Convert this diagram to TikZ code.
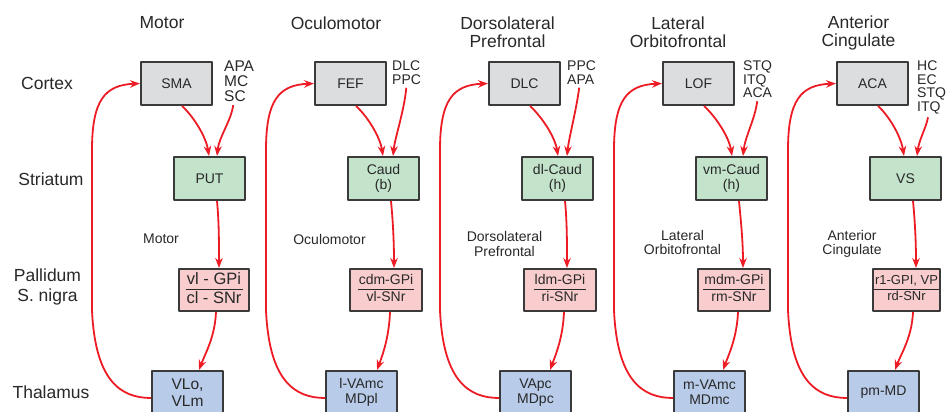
\documentclass[tikz,border=0pt]{standalone}
\usepackage{fontspec}
\setmainfont{Liberation Sans}
\usetikzlibrary{arrows.meta}
\definecolor{fiberred}{RGB}{237,28,36}
\definecolor{boxline}{RGB}{58,58,58}
\definecolor{txt}{RGB}{40,40,40}
\definecolor{cortexfill}{RGB}{220,221,223}
\definecolor{striatumfill}{RGB}{195,227,203}
\definecolor{pallidumfill}{RGB}{249,205,205}
\definecolor{thalamusfill}{RGB}{184,204,234}
\setlength{\arrayrulewidth}{1bp}
\newcommand{\gpsplit}[2]{\begin{tabular}{@{\hspace{1bp}}c@{\hspace{1bp}}}#1\\\hline #2\end{tabular}}
\begin{document}
\begin{tikzpicture}[>={Stealth[length=10bp,width=7.5bp]},line join=bevel,
  every node/.style={text=txt},
  titletext/.style={align=center,inner sep=0pt,font=\fontsize{17.5bp}{18bp}\selectfont},
  midtext/.style={align=center,inner sep=0pt,font=\fontsize{14bp}{14.5bp}\selectfont},
  inlabel/.style={align=left,inner sep=0pt,anchor=north west,font=\fontsize{14bp}{13.5bp}\selectfont},
  areabox/.style={draw=boxline,line width=2bp,inner sep=0pt,align=center,minimum width=71bp,minimum height=43bp,font=\fontsize{14bp}{15.5bp}\selectfont},
  cortexbox/.style={areabox,fill=cortexfill},
  striatumbox/.style={areabox,fill=striatumfill},
  pallidumbox/.style={areabox,fill=pallidumfill,minimum width=72bp,minimum height=42bp},
  thalamusbox/.style={areabox,fill=thalamusfill},
  fiber/.style={fiberred,line width=1.8bp,->},
  infiber/.style={fiber,shorten <=3bp},
]
\useasboundingbox (0bp,0bp) rectangle (946bp,412bp);
\clip (0bp,0bp) rectangle (946bp,412bp);
%%
\node (node_title0) at (162bp,389bp) [titletext] {Motor};
  \node (node_title1) at (336bp,389bp) [titletext] {Oculomotor};
  \node (node_title2) at (507.5bp,380bp) [titletext] {Dorsolateral\\Prefrontal};
  \node (node_title3) at (678bp,379.5bp) [titletext] {Lateral\\Orbitofrontal};
  \node (node_title4) at (858.5bp,379.5bp) [titletext] {Anterior\\Cingulate};
  \node (node_cortex) at (47bp,329bp) [titletext] {Cortex};
  \node (node_striatum) at (51bp,233bp) [titletext] {Striatum};
  \node (node_pallidum) at (47.5bp,125bp) [titletext,font=\fontsize{17.5bp}{20bp}\selectfont] {Pallidum\\S. nigra};
  \node (node_thalamus) at (51bp,20bp) [titletext] {Thalamus};
%%
\node (node_sma) at (176.5bp,328.5bp) [cortexbox] {SMA};
  \node (node_put) at (209.5bp,233.5bp) [striatumbox] {PUT};
  \node (node_vlgpi) at (214bp,122bp) [pallidumbox,minimum width=70bp,font=\fontsize{16.5bp}{18bp}\selectfont] {\gpsplit{vl - GPi}{cl - SNr}};
  \node (node_vlo) at (187.5bp,19.5bp) [thalamusbox,font=\fontsize{15.5bp}{17bp}\selectfont] {VLo,\\VLm};
  \node (node_in0) at (224bp,351bp) [inlabel,font=\fontsize{15.5bp}{15bp}\selectfont] {APA\\MC\\SC};
  \node (node_mid0) at (161bp,173bp) [midtext] {Motor};
  \draw [fiber] ([xshift=5.5bp]node_sma.south) ..controls (194bp,295bp) and (206bp,275bp)  .. ([xshift=-0.5bp]node_put.north);
  \draw [infiber] ([xshift=-5.5bp]node_in0.south) ..controls (231bp,291bp) and (219bp,275bp)  .. ([xshift=7.5bp]node_put.north);
  \draw [fiber] ([xshift=7.5bp]node_put.south) ..controls (219bp,190bp) and (219bp,170bp)  .. ([xshift=5bp]node_vlgpi.north);
  \draw [fiber] ([xshift=2bp]node_vlgpi.south) ..controls (215bp,75bp) and (205bp,58bp)  .. ([xshift=11.5bp]node_vlo.north);
  \draw [fiber] ([yshift=-5.5bp]node_vlo.west) ..controls (120bp,14bp) and (95bp,32bp)  .. (92bp,102bp) -- (92bp,262bp) ..controls (92bp,312bp) and (105bp,327bp)  .. (node_sma.west);
%%
\node (node_fef) at (350.5bp,328.5bp) [cortexbox] {FEF};
  \node (node_caud) at (383.5bp,233.5bp) [striatumbox] {Caud\\(b)};
  \node (node_cdmgpi) at (386bp,122bp) [pallidumbox] {\gpsplit{cdm-GPi}{vl-SNr}};
  \node (node_lvamc) at (361.5bp,19.5bp) [thalamusbox] {l-VAmc\\MDpl};
  \node (node_in1) at (392bp,351bp) [inlabel] {DLC\\PPC};
  \node (node_mid1) at (329.5bp,173bp) [midtext] {Oculomotor};
  \draw [fiber] ([xshift=5.5bp]node_fef.south) ..controls (368bp,295bp) and (380bp,275bp)  .. ([xshift=-0.5bp]node_caud.north);
  \draw [infiber] (node_in1.south) ..controls (404bp,300bp) and (395bp,275bp)  .. ([xshift=9.5bp]node_caud.north);
  \draw [fiber] ([xshift=7.5bp]node_caud.south) ..controls (393bp,190bp) and (394bp,170bp)  .. ([xshift=8bp]node_cdmgpi.north);
  \draw [fiber] ([xshift=4bp]node_cdmgpi.south) ..controls (389bp,75bp) and (383bp,58bp)  .. ([xshift=15.5bp]node_lvamc.north);
  \draw [fiber] ([yshift=-5.5bp]node_lvamc.west) ..controls (294bp,14bp) and (269bp,32bp)  .. (266bp,102bp) -- (266bp,262bp) ..controls (266bp,312bp) and (279bp,327bp)  .. (node_fef.west);
%%
\node (node_dlc) at (524.5bp,328.5bp) [cortexbox] {DLC};
  \node (node_dlcaud) at (557.5bp,233.5bp) [striatumbox] {dl-Caud\\(h)};
  \node (node_ldmgpi) at (560bp,122bp) [pallidumbox] {\gpsplit{ldm-GPi}{ri-SNr}};
  \node (node_vapc) at (535.5bp,19.5bp) [thalamusbox] {VApc\\MDpc};
  \node (node_in2) at (567bp,351bp) [inlabel] {PPC\\APA};
  \node (node_mid2) at (504.5bp,168bp) [midtext] {Dorsolateral\\Prefrontal};
  \draw [fiber] ([xshift=5.5bp]node_dlc.south) ..controls (542bp,295bp) and (555bp,275bp)  .. ([xshift=0.5bp]node_dlcaud.north);
  \draw [infiber] ([xshift=-2bp]node_in2.south) ..controls (576bp,300bp) and (569bp,275bp)  .. ([xshift=9.5bp]node_dlcaud.north);
  \draw [fiber] ([xshift=7.5bp]node_dlcaud.south) ..controls (567bp,190bp) and (567bp,170bp)  .. ([xshift=7bp]node_ldmgpi.north);
  \draw [fiber] ([xshift=4bp]node_ldmgpi.south) ..controls (563bp,75bp) and (556bp,58bp)  .. ([xshift=14.5bp]node_vapc.north);
  \draw [fiber] ([yshift=-5.5bp]node_vapc.west) ..controls (468bp,14bp) and (443bp,32bp)  .. (440bp,102bp) -- (440bp,262bp) ..controls (440bp,312bp) and (453bp,327bp)  .. (node_dlc.west);
%%
\node (node_lof) at (698.5bp,328.5bp) [cortexbox] {LOF};
  \node (node_vmcaud) at (731.5bp,233.5bp) [striatumbox] {vm-Caud\\(h)};
  \node (node_mdmgpi) at (734bp,122bp) [pallidumbox] {\gpsplit{mdm-GPi}{rm-SNr}};
  \node (node_mvamc) at (709.5bp,19.5bp) [thalamusbox] {m-VAmc\\MDmc};
  \node (node_in3) at (743bp,351bp) [inlabel] {STQ\\ITQ\\ACA};
  \node (node_mid3) at (682.5bp,169.5bp) [midtext] {Lateral\\Orbitofrontal};
  \draw [fiber] ([xshift=5.5bp]node_lof.south) ..controls (716bp,295bp) and (729bp,275bp)  .. ([xshift=0.5bp]node_vmcaud.north);
  \draw [infiber] (node_in3.south) ..controls (755bp,293bp) and (745bp,275bp)  .. ([xshift=11.5bp]node_vmcaud.north);
  \draw [fiber] ([xshift=7.5bp]node_vmcaud.south) ..controls (741bp,190bp) and (743bp,170bp)  .. ([xshift=9bp]node_mdmgpi.north);
  \draw [fiber] ([xshift=4bp]node_mdmgpi.south) ..controls (737bp,75bp) and (729bp,58bp)  .. ([xshift=13.5bp]node_mvamc.north);
  \draw [fiber] ([yshift=-5.5bp]node_mvamc.west) ..controls (642bp,14bp) and (617bp,32bp)  .. (614bp,102bp) -- (614bp,262bp) ..controls (614bp,312bp) and (627bp,327bp)  .. (node_lof.west);
%%
\node (node_aca) at (872.5bp,328.5bp) [cortexbox] {ACA};
  \node (node_vs) at (905.5bp,233.5bp) [striatumbox] {VS};
  \node (node_r1gpi) at (906.5bp,122bp) [pallidumbox,minimum width=67bp,font=\fontsize{13bp}{15bp}\selectfont] {\gpsplit{r1-GPI, VP}{rd-SNr}};
  \node (node_pmmd) at (883.5bp,19.5bp) [thalamusbox] {pm-MD};
  \node (node_in4) at (917bp,351bp) [inlabel] {HC\\EC\\STQ\\ITQ};
  \node (node_mid4) at (852bp,168bp) [midtext] {Anterior\\Cingulate};
  \draw [fiber] ([xshift=5.5bp]node_aca.south) ..controls (890bp,295bp) and (901bp,275bp)  .. ([xshift=-1.5bp]node_vs.north);
  \draw [infiber] ([xshift=-3bp]node_in4.south) ..controls (926bp,284bp) and (919bp,272bp)  .. ([xshift=11.5bp]node_vs.north);
  \draw [fiber] ([xshift=7.5bp]node_vs.south) ..controls (915bp,190bp) and (916bp,170bp)  .. ([xshift=9.5bp]node_r1gpi.north);
  \draw [fiber] ([xshift=6.5bp]node_r1gpi.south) ..controls (912bp,75bp) and (901bp,58bp)  .. ([xshift=11.5bp]node_pmmd.north);
  \draw [fiber] ([yshift=-5.5bp]node_pmmd.west) ..controls (816bp,14bp) and (791bp,32bp)  .. (788bp,102bp) -- (788bp,262bp) ..controls (788bp,312bp) and (801bp,327bp)  .. (node_aca.west);
%
\end{tikzpicture}
\end{document}
